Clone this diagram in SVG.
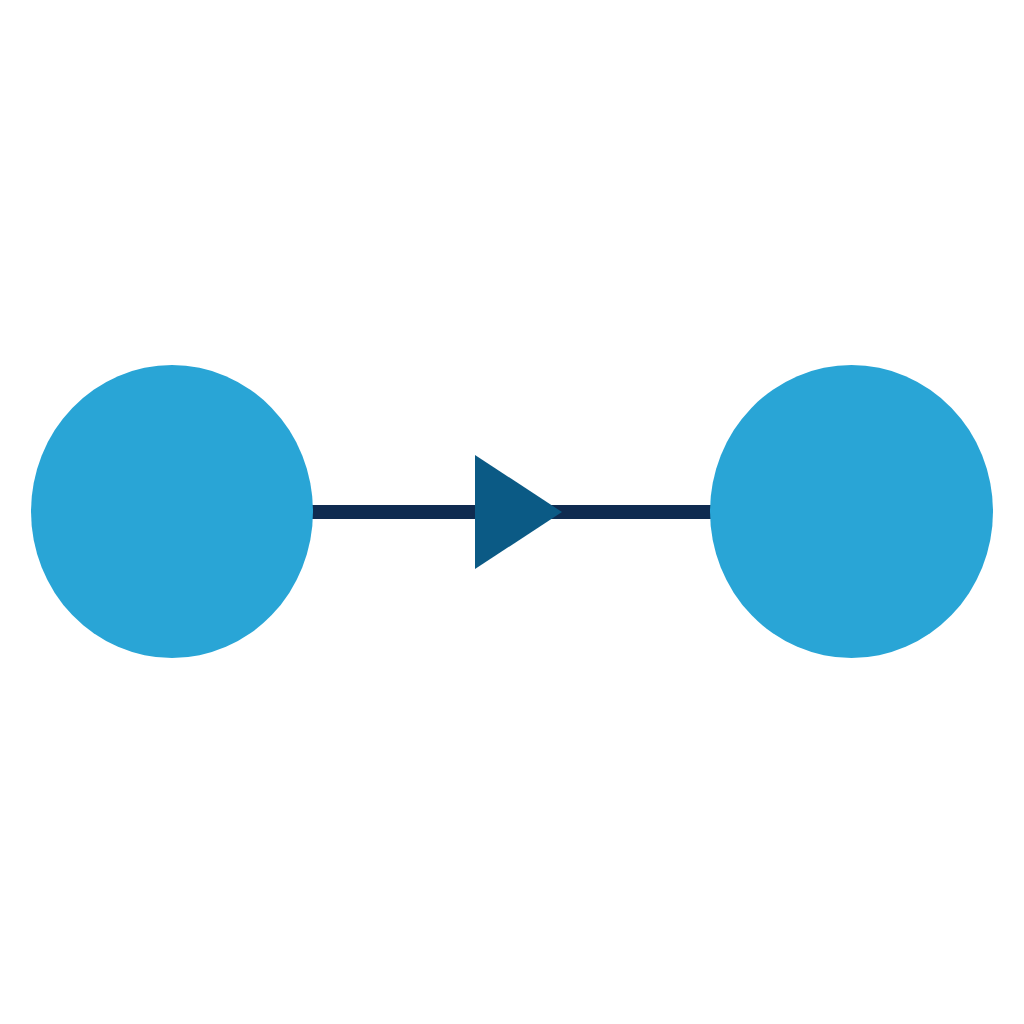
<svg xmlns="http://www.w3.org/2000/svg" width="1024" height="1024" viewBox="0 0 1024 1024">
<style>
.node{fill:#29a5d6}
.edge{stroke:#0f2b50;stroke-width:14;fill:none}
.head{fill:#0b5a85}
</style>
<rect width="1024" height="1024" fill="#ffffff"/>
<g id="connectors">
<line class="edge" x1="300" y1="512" x2="720" y2="512"/>
<polygon class="head" points="475,455 562,512 475,569"/>
</g>
<g id="node-left"><ellipse class="node" cx="172" cy="511.5" rx="141" ry="146.5"/></g>
<g id="node-right"><ellipse class="node" cx="851.5" cy="511.5" rx="141.5" ry="146.5"/></g>
</svg>
